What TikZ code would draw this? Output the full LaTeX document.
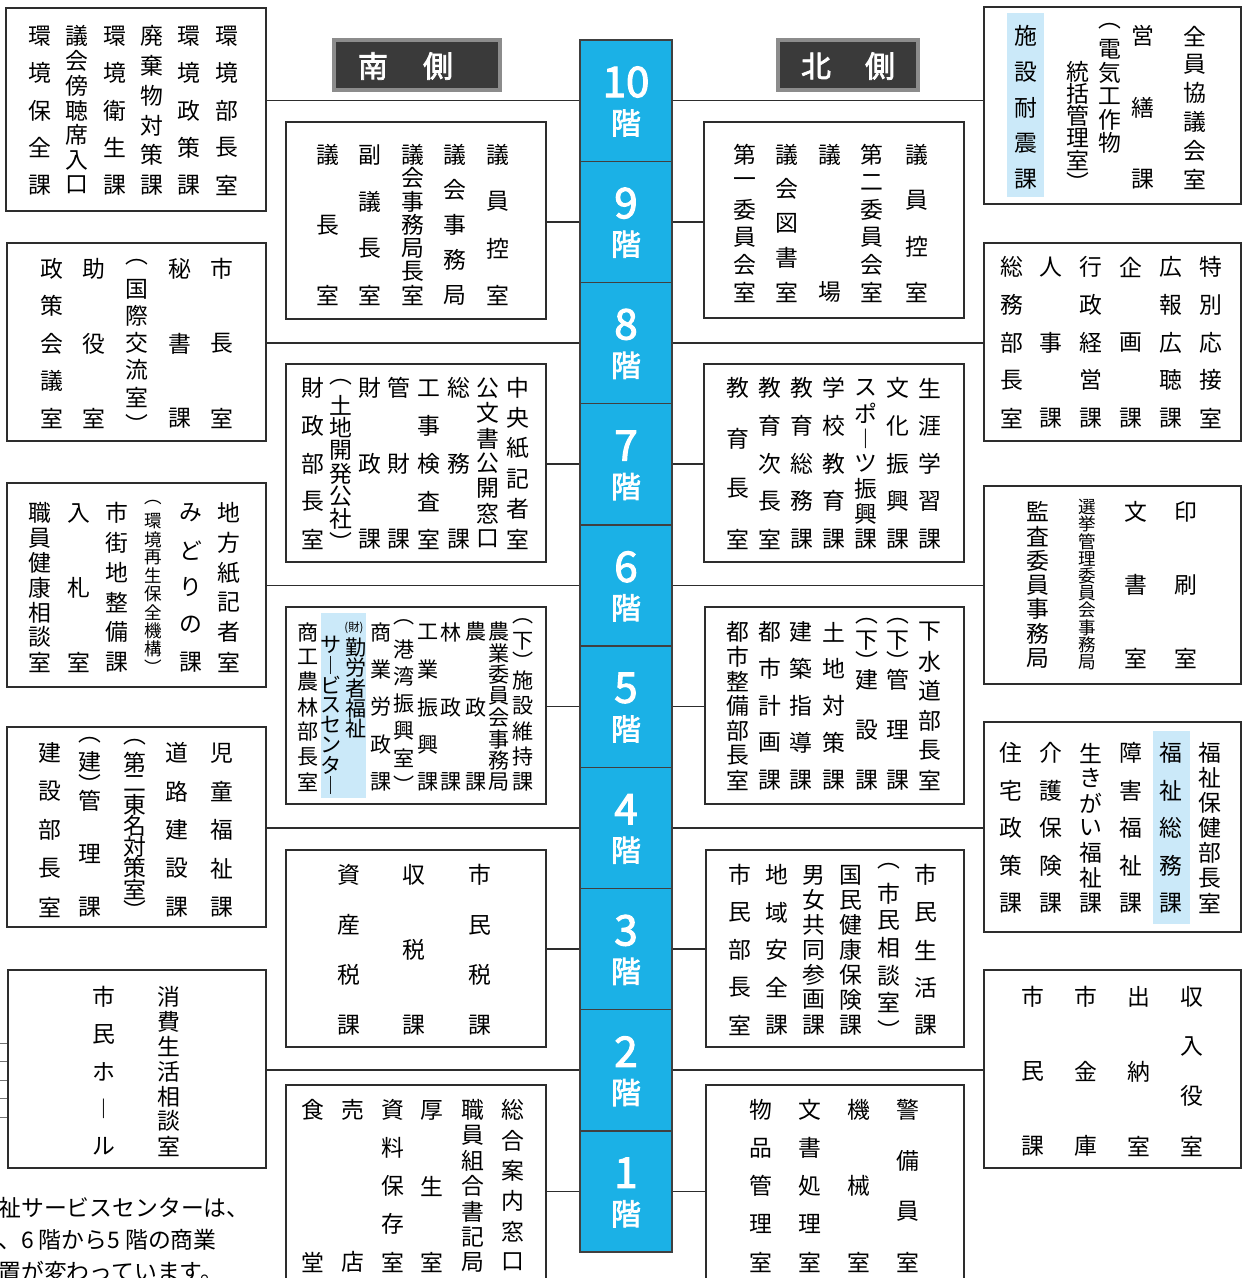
\documentclass[tikz,border=0pt]{standalone}
\usepackage{fontspec}
\usepackage{tikz}
\usetikzlibrary{fit}
\newfontfamily\jp{Noto Sans CJK JP}
\newfontfamily\jpbold[FakeBold=2.5]{Noto Sans CJK JP}
\definecolor{floorcyan}{RGB}{27,177,230}
\definecolor{hilite}{RGB}{203,233,249}
\definecolor{boxline}{RGB}{45,45,45}
\definecolor{headfill}{RGB}{58,58,58}

% one vertical column of characters, spread evenly from top to bottom
\newcommand\vcol[6][]{%
  \gdef\vcnum{0}%
  \foreach \vv in {#6}{\xdef\vcnum{\the\numexpr\vcnum+1\relax}}%
  \foreach \vv [count=\vk] in {#6}{%
    \pgfmathsetmacro\vy{#4+(\vk-1)*(#5-#4)/max(\vcnum-1,1)}%
    \node[jchar,#1] (#2-\vk) at (#3,\vy) {\vv};%
  }%
}
\newcommand\roombox[5]{\node[roombox, fit={(#2,#3) (#4,#5)}] (#1) {};}

\begin{document}
\begin{tikzpicture}[x=0.02cm, y=-0.02cm,
  jchar/.style={font=\jp\fontsize{13}{15}\selectfont, inner sep=0pt, anchor=center},
  smallchar/.style={font=\jp\fontsize{10}{12}\selectfont},
  narrowchar/.style={font=\jp\fontsize{12}{14}\selectfont},
  roombox/.style={draw=boxline, line width=1.1pt, fill=white, inner sep=0pt},
  floorbox/.style={draw=black!75, fill=floorcyan, line width=0.8pt, inner sep=0pt},
  floornum/.style={font=\jpbold\fontsize{24}{26}\selectfont, text=white, inner sep=0pt},
  floorkai/.style={font=\jpbold\fontsize{17}{19}\selectfont, text=white, inner sep=0pt},
  sidehead/.style={draw=black!45, line width=2pt, fill=headfill, inner sep=0pt},
  headchar/.style={font=\jpbold\fontsize{17}{19}\selectfont, text=white, inner sep=0pt},
  link/.style={draw=boxline, line width=0.9pt}]
\useasboundingbox (0,0) rectangle (1248,1278);
\fill[white] (0,0) rectangle (1248,1278);

% floors
\foreach \f in {10,...,1}{
  \pgfmathsetmacro\ft{40+(10-\f)*121.2}
  \pgfmathsetmacro\fb{\ft+121.2}
  \node[floorbox, fit={(580,\ft) (672,\fb)}] (F\f) {};
  \node[floornum] (N\f) at (626,\ft+42) {\f};
  \node[floorkai] (K\f) at (626,\ft+83) {階};
}

% headers
\node[sidehead, fit={(334,40) (500,90)}] (south) {};
\node[headchar] (south1) at (373,66) {南};
\node[headchar] (south2) at (438,66) {側};
\node[sidehead, fit={(778,40) (918,90)}] (north) {};
\node[headchar] (north1) at (816,66) {北};
\node[headchar] (north2) at (880,66) {側};

% south side boxes
\roombox{L10}{6}{8}{266}{211}
\roombox{L9}{286}{122}{546}{319}
\roombox{L8}{7}{243}{266}{441}
\roombox{L7}{286}{364}{546}{562}
\roombox{L6}{7}{483}{266}{687}
\roombox{L5}{286}{607}{546}{804}
\roombox{L4}{7}{727}{266}{927}
\roombox{L3}{286}{850}{546}{1047}
\roombox{L2}{8}{970}{266}{1168}
\roombox{L1}{286}{1085}{546}{1300}

% north side boxes
\roombox{R10}{984}{7}{1241}{204}
\roombox{R9}{704}{122}{964}{318}
\roombox{R8}{984}{243}{1241}{441}
\roombox{R7}{704}{364}{964}{562}
\roombox{R6}{984}{486}{1241}{684}
\roombox{R5}{705}{607}{964}{804}
\roombox{R4}{984}{722}{1241}{932}
\roombox{R3}{706}{850}{964}{1047}
\roombox{R2}{984}{970}{1241}{1168}
\roombox{R1}{706}{1085}{964}{1300}

\foreach \f in {10,...,1}{
  \draw[link] (L\f.east |- F\f.west) -- (F\f.west);
  \draw[link] (F\f.east) -- (F\f.east -| R\f.west);
}

\fill[hilite] (1007,13) rectangle (1044,197);
\fill[hilite] (321,613) rectangle (366,798);
\fill[hilite] (1153,731) rectangle (1190,924);

% 10F
\vcol{L10a}{40}{36}{185}{環,境,保,全,課}
\vcol{L10b}{77}{36}{185}{議,会,傍,聴,席,入,口}
\vcol{L10c}{115}{36}{185}{環,境,衛,生,課}
\vcol{L10d}{152}{36}{185}{廃,棄,物,対,策,課}
\vcol{L10e}{189}{36}{185}{環,境,政,策,課}
\vcol{L10f}{227}{36}{185}{環,境,部,長,室}
\vcol{R10a}{1026}{36}{179}{施,設,耐,震,課}
\vcol{R10b}{1078}{72}{182}{統,括,管,理,室,︶}
\vcol{R10c}{1110}{26}{143}{︵,電,気,工,作,物}
\vcol{R10d}{1143}{36}{179}{営,繕,課}
\vcol{R10e}{1195}{36}{179}{全,員,協,議,会,室}

% 9F
\vcol{L9a}{328}{155}{295}{議,長,室}
\vcol{L9b}{370}{155}{295}{副,議,長,室}
\vcol{L9c}{413}{155}{295}{議,会,事,務,局,長,室}
\vcol{L9d}{455}{155}{295}{議,会,事,務,局}
\vcol{L9e}{498}{155}{295}{議,員,控,室}
\vcol{R9a}{745}{155}{292}{第,一,委,員,会,室}
\vcol{R9b}{787}{155}{292}{議,会,図,書,室}
\vcol{R9c}{830}{155}{292}{議,場}
\vcol{R9d}{872}{155}{292}{第,二,委,員,会,室}
\vcol{R9e}{917}{155}{292}{議,員,控,室}

% 8F
\vcol{L8a}{52}{269}{418}{政,策,会,議,室}
\vcol{L8b}{94}{269}{418}{助,役,室}
\vcol{L8c}{137}{262}{424}{︵,国,際,交,流,室,︶}
\vcol{L8d}{180}{269}{418}{秘,書,課}
\vcol{L8e}{222}{269}{418}{市,長,室}
\vcol{R8a}{1012}{267}{418}{総,務,部,長,室}
\vcol{R8b}{1051}{267}{418}{人,事,課}
\vcol{R8c}{1091}{267}{418}{行,政,経,営,課}
\vcol{R8d}{1131}{267}{418}{企,画,課}
\vcol{R8e}{1171}{267}{418}{広,報,広,聴,課}
\vcol{R8f}{1211}{267}{418}{特,別,応,接,室}

% 7F
\vcol{L7a}{313}{388}{539}{財,政,部,長,室}
\vcol{L7b}{341}{382}{542}{︵,土,地,開,発,公,社,︶}
\vcol{L7c}{370}{388}{539}{財,政,課}
\vcol{L7d}{399}{388}{539}{管,財,課}
\vcol{L7e}{429}{388}{539}{工,事,検,査,室}
\vcol{L7f}{459}{388}{539}{総,務,課}
\vcol{L7g}{488}{388}{539}{公,文,書,公,開,窓,口}
\vcol{L7h}{518}{388}{539}{中,央,紙,記,者,室}
\vcol{R7a}{738}{388}{539}{教,育,長,室}
\vcol{R7b}{770}{388}{539}{教,育,次,長,室}
\vcol{R7c}{802}{388}{539}{教,育,総,務,課}
\vcol{R7d}{834}{388}{539}{学,校,教,育,課}
\vcol{R7e}{866}{388}{539}{ス,ポ,︱,ツ,振,興,課}
\vcol{R7f}{898}{388}{539}{文,化,振,興,課}
\vcol{R7g}{930}{388}{539}{生,涯,学,習,課}

% 6F
\vcol{L6a}{40}{513}{662}{職,員,健,康,相,談,室}
\vcol{L6b}{79}{513}{662}{入,札,室}
\vcol{L6c}{117}{513}{662}{市,街,地,整,備,課}
\vcol[smallchar]{L6d}{153}{503}{667}{︵,環,境,再,生,保,全,機,構,︶}
\vcol{L6e}{191}{513}{662}{み,ど,り,の,課}
\vcol{L6f}{229}{513}{662}{地,方,紙,記,者,室}
\vcol{R6a}{1038}{512}{658}{監,査,委,員,事,務,局}
\vcol[smallchar]{R6b}{1087}{507}{662}{選,挙,管,理,委,員,会,事,務,局}
\vcol{R6c}{1136}{512}{658}{文,書,室}
\vcol{R6d}{1186}{512}{658}{印,刷,室}

% 5F
\vcol[narrowchar]{L5a}{308}{632}{782}{商,工,農,林,部,長,室}
\vcol[narrowchar]{L5b}{331}{645}{785}{サ,︱,ビ,ス,セ,ン,タ,︱}
\node[font=\jp\fontsize{6.5}{7}\selectfont, inner sep=0pt] (L5zai) at (354,628) {(財)};
\vcol[narrowchar]{L5c}{356}{648}{728}{勤,労,者,福,祉}
\vcol[narrowchar]{L5d}{381}{632}{782}{商,業,労,政,課}
\vcol[narrowchar]{L5e}{404}{622}{785}{︵,港,湾,振,興,室,︶}
\vcol[narrowchar]{L5f}{428}{632}{782}{工,業,振,興,課}
\vcol[narrowchar]{L5g}{451}{632}{782}{林,政,課}
\vcol[narrowchar]{L5h}{476}{632}{782}{農,政,課}
\vcol[narrowchar]{L5i}{499}{632}{782}{農,業,委,員,会,事,務,局}
\vcol[narrowchar]{L5j}{523}{621}{661}{︵,下,︶}
\vcol[narrowchar]{L5k}{523}{680}{782}{施,設,維,持,課}
\vcol{R5a}{738}{632}{780}{都,市,整,備,部,長,室}
\vcol{R5b}{770}{632}{780}{都,市,計,画,課}
\vcol{R5c}{801}{632}{780}{建,築,指,導,課}
\vcol{R5d}{834}{632}{780}{土,地,対,策,課}
\vcol{R5e}{867}{621}{661}{︵,下,︶}
\vcol{R5f}{867}{680}{780}{建,設,課}
\vcol{R5g}{898}{621}{661}{︵,下,︶}
\vcol{R5h}{898}{680}{780}{管,理,課}
\vcol{R5i}{930}{632}{780}{下,水,道,部,長,室}

% 4F
\vcol{L4a}{50}{753}{907}{建,設,部,長,室}
\vcol{L4b}{90}{740}{784}{︵,建,︶}
\vcol{L4c}{90}{801}{907}{管,理,課}
\vcol{L4d}{135}{742}{910}{︵,第,二,東,名,対,策,室,︶}
\vcol{L4e}{177}{753}{907}{道,路,建,設,課}
\vcol{L4f}{222}{753}{907}{児,童,福,祉,課}
\vcol{R4a}{1011}{753}{903}{住,宅,政,策,課}
\vcol{R4b}{1051}{753}{903}{介,護,保,険,課}
\vcol{R4c}{1091}{753}{903}{生,き,が,い,福,祉,課}
\vcol{R4d}{1131}{753}{903}{障,害,福,祉,課}
\vcol{R4e}{1171}{753}{903}{福,祉,総,務,課}
\vcol{R4f}{1210}{753}{903}{福,祉,保,健,部,長,室}

% 3F
\vcol{L3a}{349}{875}{1025}{資,産,税,課}
\vcol{L3b}{414}{875}{1025}{収,税,課}
\vcol{L3c}{480}{875}{1025}{市,民,税,課}
\vcol{R3a}{740}{875}{1025}{市,民,部,長,室}
\vcol{R3b}{777}{875}{1025}{地,域,安,全,課}
\vcol{R3c}{814}{875}{1025}{男,女,共,同,参,画,課}
\vcol{R3d}{851}{875}{1025}{国,民,健,康,保,険,課}
\vcol{R3e}{889}{866}{1030}{︵,市,民,相,談,室,︶}
\vcol{R3f}{926}{875}{1025}{市,民,生,活,課}

% 2F
\vcol{L2a}{104}{997}{1146}{市,民,ホ,︱,ル}
\vcol{L2b}{169}{997}{1146}{消,費,生,活,相,談,室}
\vcol{R2a}{1033}{997}{1146}{市,民,課}
\vcol{R2b}{1086}{997}{1146}{市,金,庫}
\vcol{R2c}{1139}{997}{1146}{出,納,室}
\vcol{R2d}{1192}{997}{1146}{収,入,役,室}
\foreach \hy in {1043,1061,1080,1098,1117}
  \draw[black!55, line width=0.4pt] (0,\hy) -- (L2.west |- 0,\hy);

% 1F
\vcol{L1a}{313}{1110}{1262}{食,堂}
\vcol{L1b}{353}{1110}{1262}{売,店}
\vcol{L1c}{393}{1110}{1262}{資,料,保,存,室}
\vcol{L1d}{432}{1110}{1262}{厚,生,室}
\vcol{L1e}{473}{1110}{1262}{職,員,組,合,書,記,局}
\vcol{L1f}{513}{1110}{1262}{総,合,案,内,窓,口}
\vcol{R1a}{761}{1110}{1262}{物,品,管,理,室}
\vcol{R1b}{810}{1110}{1262}{文,書,処,理,室}
\vcol{R1c}{859}{1110}{1262}{機,械,室}
\vcol{R1d}{908}{1110}{1262}{警,備,員,室}

% note, cut at the page edge
\node[font=\jp\fontsize{13}{15}\selectfont, inner sep=0pt, anchor=west] (note1) at (-2,1208) {祉サービスセンターは、};
\node[font=\jp\fontsize{13}{15}\selectfont, inner sep=0pt, anchor=west] (note2) at (-2,1240) {、6 階から5 階の商業};
\node[font=\jp\fontsize{13}{15}\selectfont, inner sep=0pt, anchor=west] (note3) at (-2,1272) {置が変わっています。};
\end{tikzpicture}
\end{document}
